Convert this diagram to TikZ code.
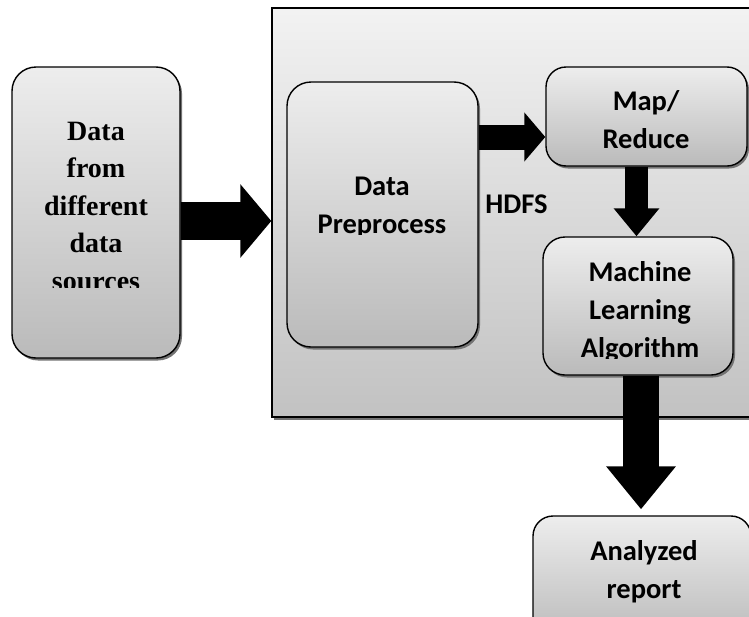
\documentclass[tikz,border=0pt]{standalone}
\usepackage{fontspec}
\setmainfont{Liberation Serif}
\newfontfamily\boxfont{Carlito}
\usepackage{tikz}
\usetikzlibrary{arrows.meta,shadows,positioning}

\begin{document}
\begin{tikzpicture}[x=1pt, y=-1pt,
    panel/.style={draw, line width=1.4pt, rectangle, rounded corners=#1, top color=black!7, bottom color=black!27,
      drop shadow={shadow xshift=2pt, shadow yshift=-2.5pt, fill=black!55, opacity=1}},
    panel/.default=24pt,
    serif label/.style={anchor=base, align=center, inner sep=0pt, font=\fontsize{28}{37.5}\selectfont\bfseries},
    sans label/.style={anchor=base, align=center, inner sep=0pt, font=\fontsize{28.5}{38}\selectfont\boxfont\bfseries}]
    \useasboundingbox (0,0) rectangle (749,616);
    \clip (0,0) rectangle (749,616);
    % Nodes
    \node[draw, line width=1.4pt, rectangle, minimum width=518pt, minimum height=409pt, top color=black!5, bottom color=black!24,
      drop shadow={shadow xshift=2pt, shadow yshift=-2.5pt, fill=black!55, opacity=1}] (frame) at (531,212.5) {};
    \node[panel, minimum width=168pt, minimum height=291pt] (sources) at (96,212.5) {};
    \node[panel, minimum width=191pt, minimum height=265pt] (prep) at (382.5,214.5) {};
    \node[panel=20pt, minimum width=201pt, minimum height=99pt] (mapred) at (646.5,116.5) {};
    \node[panel=22pt, minimum width=190pt, minimum height=138pt] (ml) at (638,306) {};
    \node[panel=20pt, minimum width=218pt, minimum height=124pt] (report) at (642,578) {};
    % Labels (base = last line)
    \begin{scope}
      \clip (12,67) rectangle (180,287);
      \node[serif label] (sources text) at (96,290) {Data\\from\\different\\data\\sources};
    \end{scope}
    \begin{scope}
      \clip (287,82) rectangle (478,234);
      \node[sans label] (prep text) at (382,233) {Data\\Preprocess};
    \end{scope}
    \node[sans label] (mapred text) at (646,148) {Map/\\Reduce};
    \begin{scope}
      \clip (543,237) rectangle (733,358);
      \node[sans label] (ml text) at (640,357) {Machine\\Learning\\Algorithm};
    \end{scope}
    \begin{scope}
      \clip (533,516) rectangle (751,602);
      \node[sans label] (report text) at (644,598) {Analyzed\\report};
    \end{scope}
    \node[sans label] (hdfs) at (516.5,213) {HDFS};
    % Arrows
    \draw[line width=38pt, -{Triangle[length=31pt, width=72pt]}] (sources.east |- 0,221) -- (frame.west |- 0,221);
    \draw[line width=25pt, -{Triangle[length=21pt, width=48pt]}] (prep.east |- 0,137) -- (mapred.west |- 0,137);
    \draw[line width=23pt, -{Triangle[length=28pt, width=44pt]}] (mapred.south -| 636.5,0) -- (ml.north -| 636.5,0);
    \draw[line width=36pt, -{Triangle[length=43pt, width=67pt]}, shorten >=6pt] (ml.south -| 641,0) -- (report.north -| 641,0);
\end{tikzpicture}
\end{document}
